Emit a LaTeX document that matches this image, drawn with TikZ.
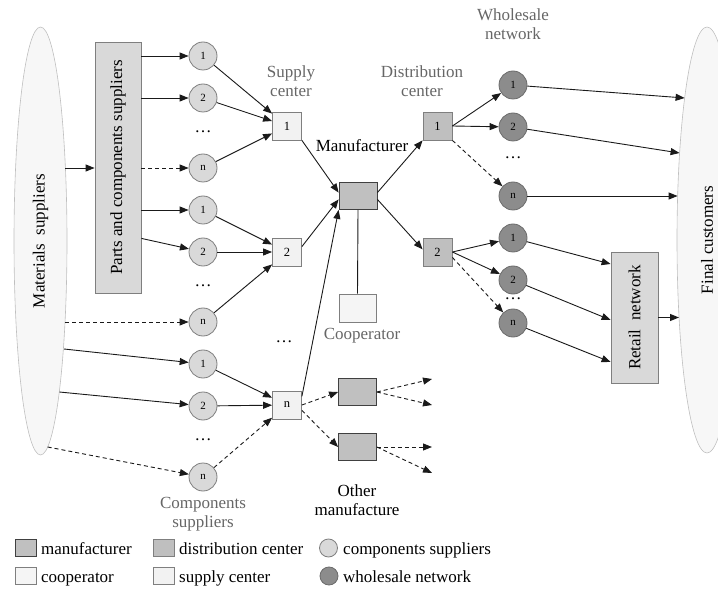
\documentclass[tikz,border=0pt]{standalone}
\usepackage{fontspec}
\setmainfont{Liberation Serif}
\usepackage{graphicx}
\usetikzlibrary{arrows.meta,shapes.geometric,calc}
\definecolor{lineC}{HTML}{1A1A1A}
\definecolor{compF}{HTML}{D9D9D9}
\definecolor{compB}{HTML}{7F7F7F}
\definecolor{wsF}{HTML}{8C8C8C}
\definecolor{wsB}{HTML}{6B6B6B}
\definecolor{supF}{HTML}{F2F2F2}
\definecolor{distF}{HTML}{BFBFBF}
\definecolor{manF}{HTML}{C0C0C0}
\definecolor{manB}{HTML}{404040}
\definecolor{coopF}{HTML}{F5F5F5}
\definecolor{ellF}{HTML}{F7F7F7}
\definecolor{ellB}{HTML}{BFBFBF}
\definecolor{labG}{HTML}{666666}
\begin{document}
\begin{tikzpicture}[x=1pt,y=-1pt,
  every node/.style={font=\fontsize{17}{19}\selectfont, inner sep=0pt},
  comp/.style={circle, draw=compB, fill=compF, minimum size=28pt, line width=0.8pt, font=\fontsize{11}{13}\selectfont},
  whs/.style={circle, draw=wsB, fill=wsF, minimum size=28pt, line width=0.8pt, font=\fontsize{11}{13}\selectfont},
  supc/.style={rectangle, draw=compB, fill=supF, minimum width=29pt, minimum height=28pt, line width=0.8pt, font=\fontsize{12.5}{14}\selectfont},
  distc/.style={rectangle, draw=compB, fill=distF, minimum width=29pt, minimum height=28pt, line width=0.8pt, font=\fontsize{12.5}{14}\selectfont},
  manc/.style={rectangle, draw=manB, fill=manF, minimum width=38pt, minimum height=27pt, line width=0.8pt},
  coopc/.style={rectangle, draw=compB, fill=coopF, minimum width=37pt, minimum height=28pt, line width=0.8pt},
  bigbox/.style={rectangle, draw=compB, fill=compF, line width=0.8pt},
  bigell/.style={ellipse, draw=ellB, fill=ellF, line width=0.6pt},
  arr/.style={draw=lineC, line width=0.9pt, -{Triangle[length=9pt,width=7pt]}},
  plain/.style={draw=lineC, line width=0.9pt},
  dsh/.style={dash pattern=on 4pt off 3pt},
  glab/.style={text=labG, align=center},
  blab/.style={text=black, align=center},
  dotsn/.style={font=\fontsize{17}{19}\selectfont},
  legsq/.style={rectangle, minimum width=21pt, minimum height=17pt, line width=0.8pt},
  legci/.style={circle, minimum size=18pt, line width=0.8pt},
  legtx/.style={anchor=base west}
]
\clip (0,0) rectangle (718,596);

% big shapes
\node[bigell, minimum width=53pt, minimum height=428pt] (ms) at (40.5,241) {\rotatebox{90}{Materials\ \ suppliers}};
\node[bigbox, minimum width=46pt, minimum height=251pt] (pcs) at (118,167.5) {\rotatebox{90}{Parts and components suppliers}};
\node[bigell, minimum width=60pt, minimum height=426pt] (fc) at (707,240) {\rotatebox{90}{Final customers}};
\node[bigbox, minimum width=47pt, minimum height=131pt] (rn) at (634.5,317.5) {\rotatebox{90}{Retail\ \ network}};

% component suppliers
\node[comp] (c11) at (203,56) {1};
\node[comp] (c12) at (203,98) {2};
\node[dotsn] (dA) at (203,132) {…};
\node[comp] (c1n) at (203,168) {n};
\node[comp] (c21) at (203,210) {1};
\node[comp] (c22) at (203,252) {2};
\node[dotsn] (dB) at (203,286) {…};
\node[comp] (c2n) at (203,322) {n};
\node[comp] (c31) at (203,364) {1};
\node[comp] (c32) at (203,406) {2};
\node[dotsn] (dC) at (203,440) {…};
\node[comp] (c3n) at (203,477) {n};

% supply centers
\node[supc] (s1) at (287,126) {1};
\node[supc] (s2) at (287,252) {2};
\node[dotsn] (dD) at (284,342) {…};
\node[supc] (sn) at (287,405) {n};

% manufacturer etc.
\node[manc] (man) at (358,196) {};
\node[coopc] (coop) at (357.5,308) {};
\node[manc] (om1) at (357.5,392) {};
\node[manc] (om2) at (357.5,447) {};

% distribution centers
\node[distc] (d1) at (437.5,126) {1};
\node[distc] (d2) at (437.5,252) {2};

% wholesale
\node[whs] (w1) at (513,85) {1};
\node[whs] (w2) at (513,127) {2};
\node[dotsn] (dE) at (513,158) {…};
\node[whs] (wn) at (513,196) {n};
\node[whs] (w21) at (513,238) {1};
\node[whs] (w22) at (513,280) {2};
\node[dotsn] (dF) at (513,299) {…};
\node[whs] (w2n) at (513,323) {n};

% labels
\node[glab] (lw) at (513,24) {Wholesale\\network};
\node[glab] (ls) at (291,81) {Supply\\center};
\node[glab] (ld) at (422,81) {Distribution\\center};
\node[blab] (lm) at (362,146) {Manufacturer};
\node[glab] (lc) at (362,336) {Cooperator};
\node[glab] (lcs) at (203,514) {Components\\suppliers};
\node[blab] (lo) at (357,500) {Other\\manufacture};

% coordinates on ellipse borders
\coordinate (ms1) at (65.4,168);
\coordinate (ms2) at (65,322);
\coordinate (ms3) at (64,349);
\coordinate (ms4) at (59.3,392);
\coordinate (ms5) at (47.7,447);
\coordinate (fc1) at (684.6,98);
\coordinate (fc2) at (679.6,153);
\coordinate (fc3) at (677.6,196);
\coordinate (fc4) at (679,317.5);
\coordinate (rn1) at ($(rn.west)+(0,-53.5)$);
\coordinate (rn2) at ($(rn.west)+(0,2.5)$);
\coordinate (rn3) at ($(rn.west)+(0,44.5)$);
\coordinate (pc22) at ($(pcs.south east)+(0,-55)$);
\coordinate (e1) at (432,379);
\coordinate (e2) at (432,405);
\coordinate (e3) at (432,447);
\coordinate (e4) at (432,473);

% materials -> parts / components
\draw[arr] (ms1) -- (ms1 -| pcs.west);
\draw[arr,dsh] (ms2) -- (c2n);
\draw[arr] (ms3) -- (c31);
\draw[arr] (ms4) -- (c32);
\draw[arr,dsh] (ms5) -- (c3n);

% parts -> components
\draw[arr] (pcs.east |- c11) -- (c11);
\draw[arr] (pcs.east |- c12) -- (c12);
\draw[arr,dsh] (pcs.east |- c1n) -- (c1n);
\draw[arr] (pcs.east |- c21) -- (c21);
\draw[arr] (pc22) -- (c22);

% components -> supply centers
\draw[arr] (c11) -- (s1);
\draw[arr] (c12) -- (s1);
\draw[arr] (c1n) -- (s1);
\draw[arr] (c21) -- (s2);
\draw[arr] (c22) -- (s2);
\draw[arr] (c2n) -- (s2);
\draw[arr] (c31) -- (sn);
\draw[arr] (c32) -- (sn);
\draw[arr,dsh] (c3n) -- (sn);

% supply -> manufacturer
\draw[arr] (s1.south east) -- (man.170);
\draw[arr] (s2.20) -- (man.190);
\draw[arr] (sn.30) -- (man.south west);
\draw[plain] (man.south) -- (coop.north);

% supply n -> other manufacturers
\draw[arr,dsh] (sn.east) -- (om1.west);
\draw[arr,dsh] (sn.-20) -- (om2.west);
\draw[arr,dsh] (om1.east) -- (e1);
\draw[arr,dsh] (om1.east) -- (e2);
\draw[arr,dsh] (om2.east) -- (e3);
\draw[arr,dsh] (om2.east) -- (e4);

% manufacturer -> distribution
\draw[arr] (man.10) -- (d1.south west);
\draw[arr] (man.-10) -- (d2.170);

% distribution -> wholesale
\draw[arr] (d1.east) -- (w1);
\draw[arr] (d1.east) -- (w2);
\draw[arr,dsh] (d1.south east) -- (wn);
\draw[arr] (d2.east) -- (w21);
\draw[arr] (d2.east) -- (w22);
\draw[arr,dsh] (d2.-20) -- (w2n);

% wholesale -> final / retail
\draw[arr] (w1) -- (fc1);
\draw[arr] (w2) -- (fc2);
\draw[arr] (wn) -- (fc3);
\draw[arr] (w21) -- (rn1);
\draw[arr] (w22) -- (rn2);
\draw[arr] (w2n) -- (rn3);
\draw[arr] (rn.east) -- (fc4);

% legend
\node[legsq, draw=manB, fill=manF] (lg1) at (25.5,548) {};
\node[legtx] (lt1) at (41,554) {manufacturer};
\node[legsq, draw=compB, fill=coopF] (lg2) at (25.5,576) {};
\node[legtx] (lt2) at (41,582) {cooperator};
\node[legsq, draw=compB, fill=distF] (lg3) at (164,548) {};
\node[legtx] (lt3) at (179,554) {distribution center};
\node[legsq, draw=compB, fill=supF] (lg4) at (164,576) {};
\node[legtx] (lt4) at (179,582) {supply center};
\node[legci, draw=compB, fill=compF] (lg5) at (328.5,548) {};
\node[legtx] (lt5) at (343,554) {components suppliers};
\node[legci, draw=wsB, fill=wsF] (lg6) at (329,576) {};
\node[legtx] (lt6) at (343,582) {wholesale network};
\end{tikzpicture}
\end{document}
